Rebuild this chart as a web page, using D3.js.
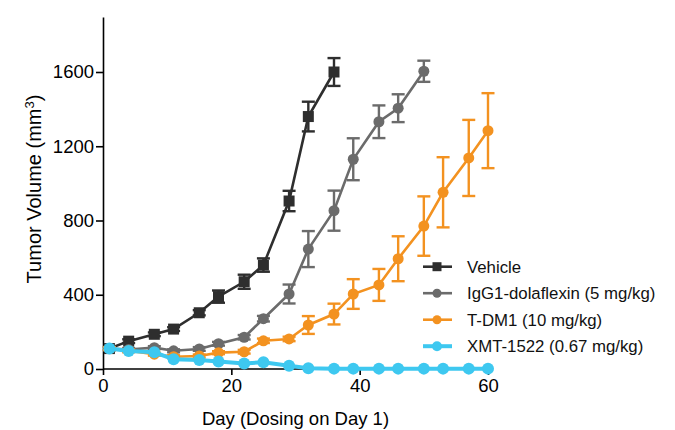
<!DOCTYPE html>
<html><head><meta charset="utf-8">
<script src="https://cdn.jsdelivr.net/npm/d3@7"></script>
<style>body{margin:0;background:#fff}svg{display:block}text{font-family:"Liberation Sans",Arial,sans-serif}</style>
</head><body><div id="chart"></div>
<script>
const seriesNames = ["Vehicle","IgG1-dolaflexin (5 mg/kg)","T-DM1 (10 mg/kg)","XMT-1522 (0.67 mg/kg)"];
const vehicleDays = [1,4,8,11,15,18,22,25,29,32,36];
const vehicleVals = [110,150,187,215,303,390,470,560,905,1360,1600];
const vehicleErr  = [8,10,10,10,14,33,38,36,55,80,75];
const iggDays = [1,4,8,11,15,18,22,25,29,32,36,39,43,46,50];
const iggVals = [110,105,115,98,108,136,171,271,404,646,853,1130,1332,1405,1604];
const iggErr  = [8,8,8,8,10,10,12,15,51,97,108,113,88,75,57];
const tdm1Days = [1,4,8,11,15,18,22,25,29,32,36,39,43,46,50,53,57,60];
const tdm1Vals = [110,98,80,66,70,88,93,152,162,237,296,404,453,594,770,952,1137,1284];
const tdm1Err  = [8,8,8,8,8,8,10,12,12,48,56,80,86,121,160,189,205,202];
const xmtDays = [1,4,8,11,15,18,22,25,29,32,36,39,43,46,50,53,57,60];
const xmtVals = [111,97,90,52,48,40,30,36,18,4,2,2,2,2,2,2,2,2];
const xTicks = [0,20,40,60];
const yTicks = [0,400,800,1200,1600];
const colors = ["#2e2e2e","#6b6b6b","#f39220","#3ec8f0"];

const W=675,H=430;
const svg=d3.select("#chart").append("svg").attr("width",W).attr("height",H);
const x=d3.scaleLinear().domain([0,60]).range([103,488]);
const y=d3.scaleLinear().domain([0,1600]).range([369,72]);
const yTop=y.invert(17);

// axes
const gx=svg.append("g").attr("transform","translate(0,369)")
  .call(d3.axisBottom(x).tickValues(xTicks).tickFormat(d3.format("d")).tickSize(6).tickPadding(4).tickSizeOuter(0));
const gy=svg.append("g").attr("transform","translate(103,0)")
  .call(d3.axisLeft(y.copy().domain([0,yTop]).range([369,17])).tickValues(yTicks).tickFormat(d3.format("d")).tickSize(7).tickPadding(2).tickSizeOuter(0));
[gx,gy].forEach(g=>{
  g.select(".domain").attr("stroke","#000").attr("stroke-width",1.6);
  g.selectAll(".tick line").attr("stroke","#000").attr("stroke-width",1.6);
  g.selectAll(".tick text").attr("fill","#000").style("font-size","18.5px").style("font-family","'Liberation Sans',Arial,sans-serif");
});
gx.select(".domain").attr("d","M103,0H489");

svg.append("text").attr("x",295.5).attr("y",425).attr("text-anchor","middle")
  .style("font-size","18.5px").text("Day (Dosing on Day 1)");
const yt=svg.append("text").attr("transform","translate(41,189) rotate(-90)").attr("text-anchor","middle").style("font-size","20px");
yt.append("tspan").text("Tumor Volume (mm");
yt.append("tspan").attr("baseline-shift","super").style("font-size","13px").text("3");
yt.append("tspan").text(")");

const series=[
 {days:vehicleDays,vals:vehicleVals,err:vehicleErr,shape:"square",lw:2.6},
 {days:iggDays,vals:iggVals,err:iggErr,shape:"circle",lw:2.6},
 {days:tdm1Days,vals:tdm1Vals,err:tdm1Err,shape:"circle",lw:2.6},
 {days:xmtDays,vals:xmtVals,err:null,shape:"circle",lw:4}
];
const line=d3.line().x(d=>x(d[0])).y(d=>y(d[1]));
series.forEach((s,i)=>{
  const c=colors[i];
  const pts=s.days.map((d,j)=>[d,s.vals[j],s.err?s.err[j]:0]);
  const g=svg.append("g");
  pts.filter(p=>p[2]>0).forEach(p=>{
    const x0=x(p[0]),y1=y(p[1]+p[2]),y2=y(p[1]-p[2]);
    g.append("line").attr("x1",x0).attr("x2",x0).attr("y1",y1).attr("y2",y2).attr("stroke",c).attr("stroke-width",2.4);
    [y1,y2].forEach(yy=>g.append("line").attr("x1",x0-6.5).attr("x2",x0+6.5).attr("y1",yy).attr("y2",yy).attr("stroke",c).attr("stroke-width",2.4));
  });
  g.append("path").datum(pts).attr("d",line).attr("fill","none").attr("stroke",c).attr("stroke-width",s.lw);
  if(s.shape==="square"){
    g.selectAll("rect").data(pts).join("rect").attr("x",d=>x(d[0])-5.5).attr("y",d=>y(d[1])-5.5)
      .attr("width",11).attr("height",11).attr("fill",c);
  } else {
    g.selectAll("circle").data(pts).join("circle").attr("cx",d=>x(d[0])).attr("cy",d=>y(d[1]))
      .attr("r",i===3?6:5.5).attr("fill",c);
  }
});

// legend
const lg=svg.append("g");
seriesNames.forEach((n,i)=>{
  const cy=266.7+i*26.5, c=colors[i];
  lg.append("line").attr("x1",423).attr("x2",452).attr("y1",cy).attr("y2",cy).attr("stroke",c).attr("stroke-width",i===3?4:2.6);
  if(i===0) lg.append("rect").attr("x",432.5).attr("y",cy-4.5).attr("width",9).attr("height",9).attr("fill",c);
  else lg.append("circle").attr("cx",437).attr("cy",cy).attr("r",i===3?5:4.5).attr("fill",c);
  lg.append("text").attr("x",467).attr("y",cy+6).style("font-size","16.8px").attr("fill","#111").text(n);
});
</script></body></html>
